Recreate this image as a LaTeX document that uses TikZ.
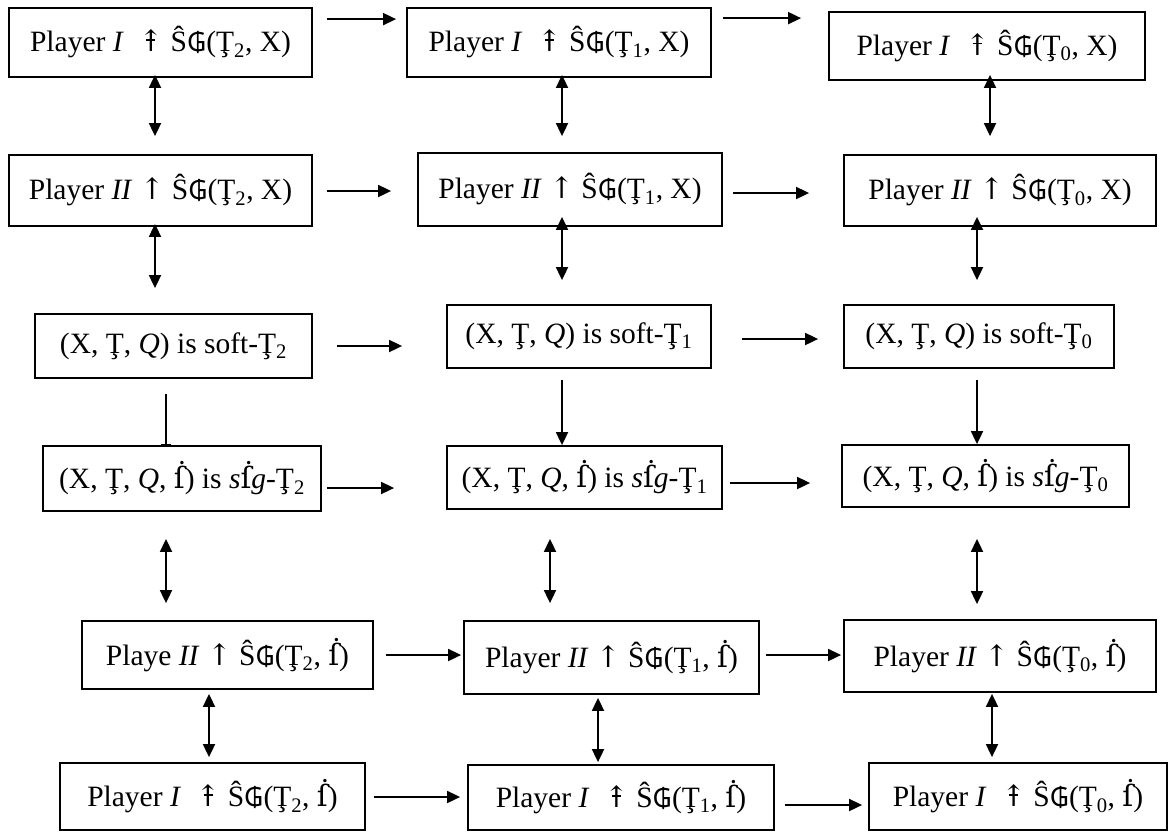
\documentclass[tikz,border=0pt]{standalone}
\usepackage{fontspec}
\setmainfont{Liberation Serif}
\newfontfamily\symf{DejaVu Serif}
\newfontfamily\curf[Scale=0.9]{Noto Sans}
\usetikzlibrary{arrows.meta,calc}
\newcommand\Gs{{\curf ₲}}
\newcommand\fd{{\symf ẛ}}
\newcommand\upa{{\symf ↑}}
\newcommand\upx{\ooalign{\upa\cr\hidewidth\rule[0.38em]{0.3em}{0.06em}\hidewidth\cr}}
\newcommand\sub[1]{\textsubscript{#1}}
\tikzset{
  box/.style={draw, line width=1.8pt, inner sep=0pt, font=\fontsize{29.5}{32}\selectfont},
  arr/.style={line width=1.8pt, -{Triangle[length=13pt,width=12pt]}},
  darr/.style={line width=1.8pt, {Triangle[length=13pt,width=12pt]}-{Triangle[length=13pt,width=12pt]}},
  barr/.style={line width=1.8pt, -{Bar[width=10pt,line width=1.5pt]}},
}
\begin{document}
\begin{tikzpicture}[x=1pt,y=-1pt]
\useasboundingbox (0,0) rectangle (1169,831);
% row 1
\node[box,minimum width=303pt,minimum height=69pt] (A1) at (160.5,42.5) {Player \textit{I}\ \ \upx\ Ŝ\Gs(Ţ\sub{2}, X)};
\node[box,minimum width=304pt,minimum height=69pt] (B1) at (559,42.5) {Player \textit{I}\ \ \upx\ Ŝ\Gs(Ţ\sub{1}, X)};
\node[box,minimum width=316pt,minimum height=68pt] (C1) at (987,46) {Player \textit{I}\ \ \upx\ Ŝ\Gs(Ţ\sub{0}, X)};
% row 2
\node[box,minimum width=303pt,minimum height=71pt] (A2) at (160.5,190.5) {Player \textit{II} \upa\ Ŝ\Gs(Ţ\sub{2}, X)};
\node[box,minimum width=304pt,minimum height=73pt] (B2) at (570,189.5) {Player \textit{II} \upa\ Ŝ\Gs(Ţ\sub{1}, X)};
\node[box,minimum width=312pt,minimum height=71pt] (C2) at (1000,190.5) {Player \textit{II} \upa\ Ŝ\Gs(Ţ\sub{0}, X)};
% row 3
\node[box,minimum width=277pt,minimum height=64pt] (A3) at (173.5,346) {(X, Ţ, \textit{Q}) is soft-Ţ\sub{2}};
\node[box,minimum width=264pt,minimum height=63pt] (B3) at (579,336.5) {(X, Ţ, \textit{Q}) is soft-Ţ\sub{1}};
\node[box,minimum width=270pt,minimum height=63pt] (C3) at (979,336.5) {(X, Ţ, \textit{Q}) is soft-Ţ\sub{0}};
% row 4
\node[box,minimum width=278pt,minimum height=65pt] (A4) at (182,478.5) {(X, Ţ, \textit{Q}, \fd) is \textit{s}\fd\textit{g}-Ţ\sub{2}};
\node[box,minimum width=275pt,minimum height=63pt] (B4) at (584.5,477.5) {(X, Ţ, \textit{Q}, \fd) is \textit{s}\fd\textit{g}-Ţ\sub{1}};
\node[box,minimum width=287pt,minimum height=62pt] (C4) at (985.5,476) {(X, Ţ, \textit{Q}, \fd) is \textit{s}\fd\textit{g}-Ţ\sub{0}};
% row 5
\node[box,minimum width=291pt,minimum height=68pt] (A5) at (227.5,655) {Playe \textit{II} \upa\ Ŝ\Gs(Ţ\sub{2}, \fd)};
\node[box,minimum width=295pt,minimum height=73pt] (B5) at (611.5,657.5) {Player \textit{II} \upa\ Ŝ\Gs(Ţ\sub{1}, \fd)};
\node[box,minimum width=312pt,minimum height=72pt] (C5) at (1000,656) {Player \textit{II} \upa\ Ŝ\Gs(Ţ\sub{0}, \fd)};
% row 6
\node[box,minimum width=305pt,minimum height=67pt] (A6) at (212.5,796.5) {Player \textit{I}\ \ \upx\ Ŝ\Gs(Ţ\sub{2}, \fd)};
\node[box,minimum width=306pt,minimum height=65pt] (B6) at (621,797.5) {Player \textit{I}\ \ \upx\ Ŝ\Gs(Ţ\sub{1}, \fd)};
\node[box,minimum width=298pt,minimum height=67pt] (C6) at (1018,796.5) {Player \textit{I}\ \ \upx\ Ŝ\Gs(Ţ\sub{0}, \fd)};
% horizontal arrows
\draw[arr] ($(A1.north east)+(14,12)$) -- ($(B1.north west)+(-10,12)$);
\draw[arr] ($(B1.north east)+(11,11)$) -- ($(C1.north west)+(-27,7)$);
\draw[arr] ($(A2.east)+(14,0.5)$) -- ($(B2.west)+(-26,1.5)$);
\draw[arr] ($(B2.east)+(10,3.5)$) -- ($(C2.west)+(-34,2.5)$);
\draw[arr] ($(A3.east)+(24,0)$) -- ($(B3.west)+(-44,9.5)$);
\draw[arr] ($(B3.east)+(30,2.5)$) -- ($(C3.west)+(-25,2.5)$);
\draw[arr] ($(A4.east)+(5,9.5)$) -- ($(B4.west)+(-52,10.5)$);
\draw[arr] ($(B4.east)+(7,5.5)$) -- ($(C4.west)+(-31,7)$);
\draw[arr] ($(A5.east)+(12,0)$) -- ($(B5.west)+(-2,-2.5)$);
\draw[arr] ($(B5.east)+(6,-2.5)$) -- ($(C5.west)+(-2,-1)$);
\draw[arr] ($(A6.east)+(8,0.5)$) -- ($(B6.west)+(-7,-0.5)$);
\draw[arr] ($(B6.east)+(10,7.5)$) -- ($(C6.west)+(-6,8.5)$);
% vertical connectors
\draw[darr] ($(A1.south)+(-5.5,-3)$) -- ($(A2.north)+(-5.5,-18)$);
\draw[darr] ($(B1.south)+(3,-3)$) -- ($(B2.north)+(-8,-16)$);
\draw[darr] ($(C1.south)+(3,-6)$) -- ($(C2.north)+(-10,-18)$);
\draw[darr] ($(A2.south)+(-5.5,-3)$) -- ($(A3.north)+(-18.5,-25)$);
\draw[darr] ($(B2.south)+(-8,-10)$) -- ($(B3.north)+(-17,-24)$);
\draw[darr] ($(C2.south)+(-23,-10)$) -- ($(C3.north)+(-2,-24)$);
\draw[barr] ($(A3.south)+(-7.5,15)$) -- ($(A4.north)+(-16,0)$);
\draw[arr] ($(B3.south)+(-17,11)$) -- ($(B4.north)+(-22.5,0)$);
\draw[arr] ($(C3.south)+(-2,11)$) -- ($(C4.north)+(-8.5,0)$);
\draw[darr] ($(A4.south)+(-16,27)$) -- ($(A5.north)+(-61.5,-17)$);
\draw[darr] ($(B4.south)+(-34.5,29)$) -- ($(B5.north)+(-61.5,-17)$);
\draw[darr] ($(C4.south)+(-8.5,31)$) -- ($(C5.north)+(-23,-15)$);
\draw[darr] ($(A5.south)+(-18.5,4)$) -- ($(A6.north)+(-3.5,-5)$);
\draw[darr] ($(B5.south)+(-13.5,3)$) -- ($(B6.north)+(-23,-2)$);
\draw[darr] ($(C5.south)+(-8,1)$) -- ($(C6.north)+(-26,-5)$);
\end{tikzpicture}
\end{document}
